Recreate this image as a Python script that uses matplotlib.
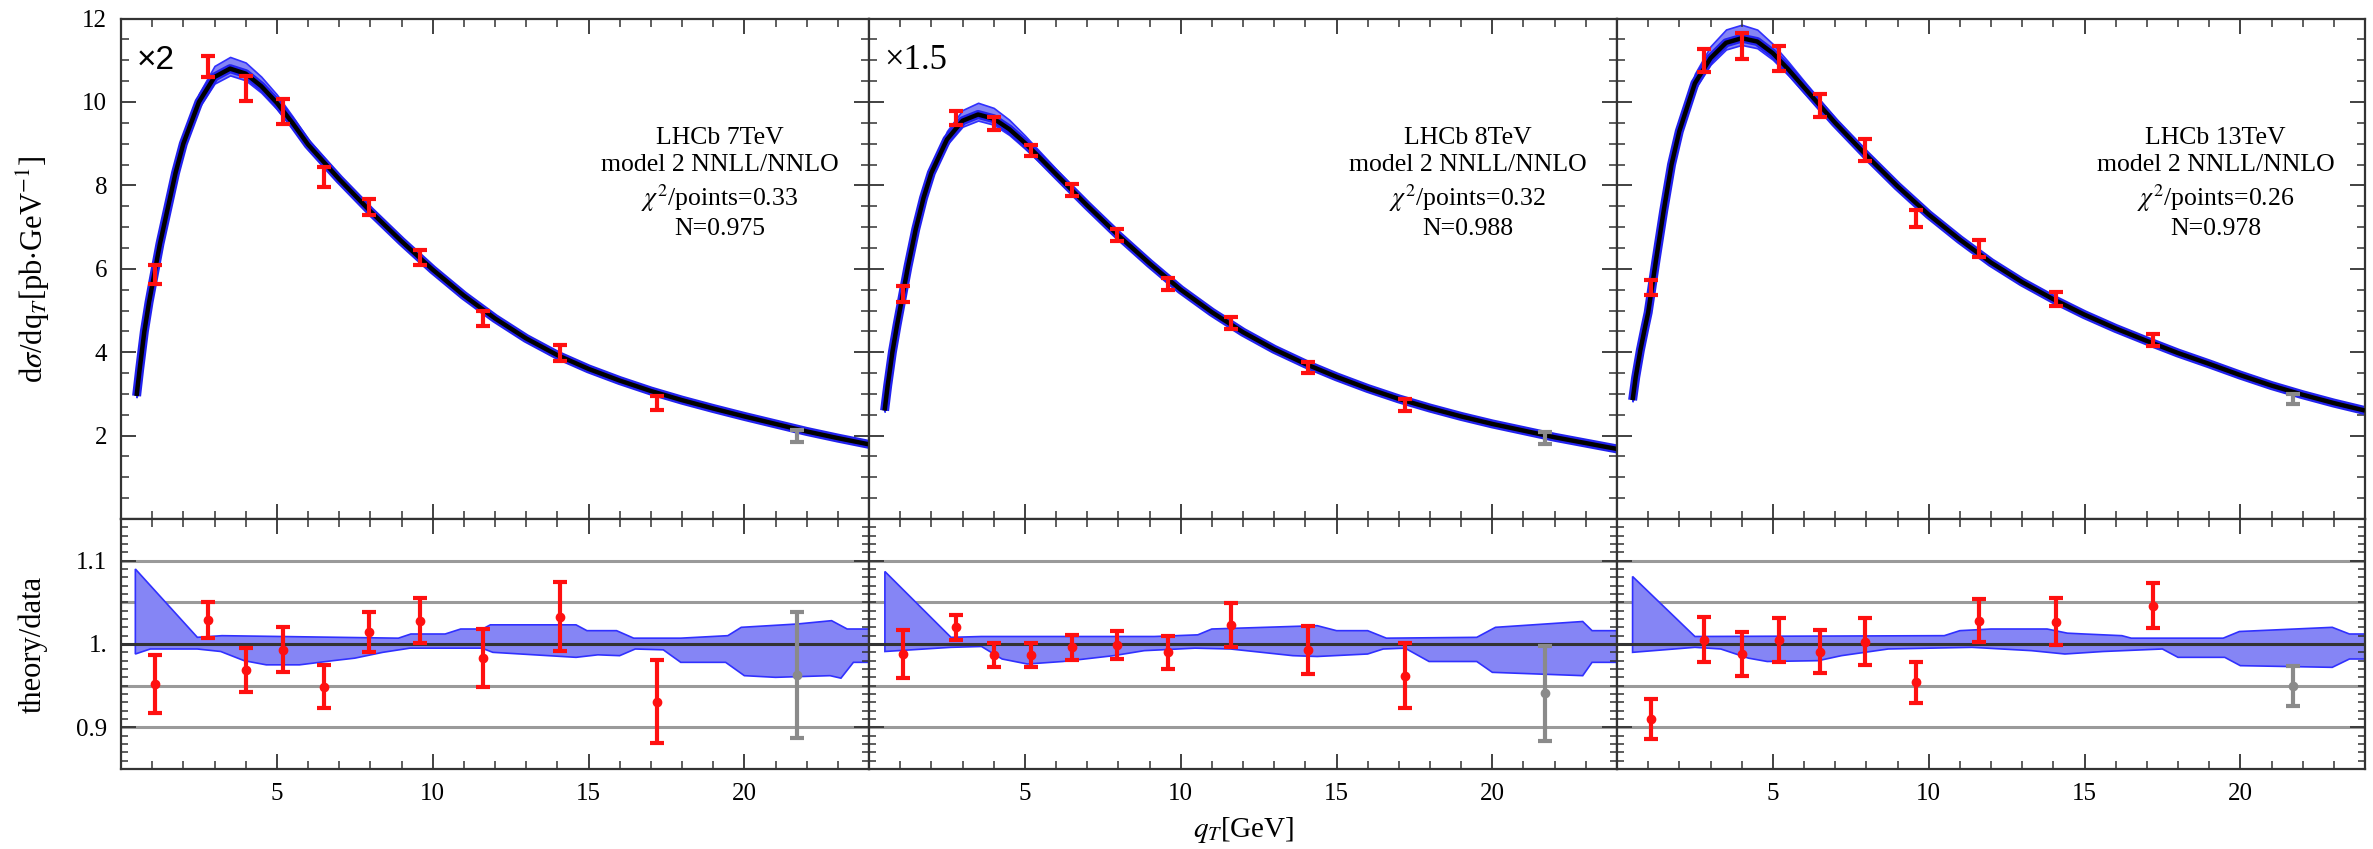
import numpy as np
import matplotlib
matplotlib.use('Agg')
import matplotlib.pyplot as plt
from matplotlib.ticker import MultipleLocator, FixedLocator, FixedFormatter

plt.rcParams['font.family'] = ['Liberation Serif', 'DejaVu Serif']
plt.rcParams['mathtext.fontset'] = 'stix'

# bin centres of the measured points (last point drawn in grey)
qt_pts = [1.1, 2.8, 4.0, 5.2, 6.5, 7.95, 9.6, 11.6, 14.1, 17.2, 21.7]

# theory curve grid
qt_grid = [0.5, 0.6, 0.75, 0.9, 1.0, 1.25, 1.5, 1.75, 2.0, 2.5, 3.0, 3.5, 4.0, 4.5, 5.0, 5.5,
           6.0, 7, 8, 9, 10, 11, 12, 13, 14, 15, 16, 17, 18, 19, 20, 21, 22, 23, 24]

# ---- LHCb 7TeV (x2)
curve_7 = [2.95, 3.6, 4.5, 5.2, 5.6, 6.6, 7.45, 8.3, 9.0, 10.0, 10.6, 10.8, 10.68, 10.38, 9.98,
           9.5, 8.98, 8.15, 7.38, 6.66, 5.98, 5.36, 4.81, 4.33, 3.93, 3.6, 3.32, 3.07, 2.85,
           2.65, 2.46, 2.28, 2.1, 1.94, 1.79]
band_hi_7 = [1.01, 1.01, 1.01, 1.01, 1.01, 1.011, 1.012, 1.014, 1.016, 1.02, 1.025, 1.026, 1.025,
             1.022, 1.02, 1.017, 1.015, 1.012, 1.01, 1.01, 1.01, 1.01, 1.01, 1.01, 1.01, 1.01,
             1.01, 1.01, 1.01, 1.01, 1.01, 1.01, 1.012, 1.014, 1.015]
band_lo_7 = [0.99, 0.99, 0.99, 0.99, 0.99, 0.99, 0.99, 0.99, 0.988, 0.986, 0.985, 0.985, 0.985,
             0.985, 0.985, 0.987, 0.988, 0.99, 0.99, 0.99, 0.99, 0.99, 0.99, 0.99, 0.99, 0.99,
             0.99, 0.99, 0.99, 0.99, 0.99, 0.99, 0.988, 0.986, 0.985]
data_7 = [5.86, 10.85, 10.33, 9.77, 8.21, 7.48, 6.27, 4.81, 3.98, 2.78, 1.99]
err_7 = [0.23, 0.25, 0.30, 0.29, 0.24, 0.19, 0.18, 0.19, 0.19, 0.17, 0.15]
ratio_7 = [0.952, 1.029, 0.969, 0.993, 0.949, 1.014, 1.028, 0.983, 1.033, 0.931, 0.963]
rerr_7 = [0.035, 0.022, 0.026, 0.027, 0.026, 0.024, 0.027, 0.035, 0.041, 0.05, 0.076]
rup_x_7 = [0.46, 2.45, 3.24, 8.9, 9.3, 10.4, 10.9, 11.6, 11.85, 14.6, 14.95, 15.9, 16.45, 17.96,
           19.47, 19.9, 21.7, 22.8, 23.3, 24]
rup_y_7 = [1.09, 1.008, 1.01, 1.007, 1.012, 1.012, 1.018, 1.018, 1.023, 1.023, 1.016, 1.016, 1.007,
           1.007, 1.01, 1.02, 1.024, 1.028, 1.018, 1.018]
rlo_x_7 = [0.46, 0.94, 2.45, 3.2, 3.95, 4.66, 5.73, 6.8, 7.5, 8.4, 9.27, 11.58, 11.93, 14.6, 15.3,
           16.0, 16.5, 17.4, 17.96, 19.4, 20.0, 21.0, 22.75, 23.1, 23.5, 24]
rlo_y_7 = [0.988, 0.994, 0.994, 0.991, 0.98, 0.975, 0.975, 0.98, 0.983, 0.99, 0.995, 0.995, 0.99,
           0.984, 0.987, 0.986, 0.994, 0.993, 0.978, 0.978, 0.962, 0.96, 0.962, 0.959, 0.978, 0.978]

# ---- LHCb 8TeV (x1.5)
curve_8 = [2.6, 3.2, 4.0, 4.65, 5.05, 6.05, 6.95, 7.7, 8.3, 9.1, 9.55, 9.7, 9.6, 9.35, 9.02,
           8.65, 8.27, 7.52, 6.8, 6.13, 5.5, 4.96, 4.48, 4.07, 3.72, 3.41, 3.13, 2.88, 2.66,
           2.46, 2.28, 2.12, 1.96, 1.82, 1.68]
band_hi_8 = [1.01, 1.01, 1.01, 1.01, 1.01, 1.011, 1.012, 1.014, 1.016, 1.022, 1.027, 1.029, 1.027,
             1.024, 1.02, 1.017, 1.015, 1.012, 1.01, 1.01, 1.01, 1.01, 1.01, 1.01, 1.01, 1.01,
             1.01, 1.01, 1.01, 1.01, 1.01, 1.01, 1.012, 1.014, 1.015]
band_lo_8 = [0.99, 0.99, 0.99, 0.99, 0.99, 0.99, 0.99, 0.99, 0.988, 0.986, 0.985, 0.985, 0.985,
             0.985, 0.985, 0.987, 0.988, 0.99, 0.99, 0.99, 0.99, 0.99, 0.99, 0.99, 0.99, 0.99,
             0.99, 0.99, 0.99, 0.99, 0.99, 0.99, 0.988, 0.986, 0.985]
data_8 = [5.40, 9.62, 9.49, 8.84, 7.89, 6.81, 5.63, 4.70, 3.63, 2.74, 1.94]
err_8 = [0.19, 0.16, 0.15, 0.14, 0.15, 0.14, 0.14, 0.14, 0.13, 0.14, 0.14]
ratio_8 = [0.988, 1.02, 0.987, 0.987, 0.996, 0.999, 0.99, 1.023, 0.993, 0.962, 0.941]
rerr_8 = [0.029, 0.015, 0.014, 0.014, 0.015, 0.017, 0.02, 0.026, 0.029, 0.039, 0.057]
rup_x_8 = [0.51, 2.63, 3.61, 9.16, 10.55, 11.0, 14.38, 15.0, 16.0, 16.6, 19.5, 20.1, 22.9, 23.2, 24]
rup_y_8 = [1.087, 1.008, 1.009, 1.009, 1.011, 1.018, 1.022, 1.016, 1.016, 1.007, 1.008, 1.02,
           1.027, 1.016, 1.016]
rlo_x_8 = [0.51, 2.63, 3.61, 4.27, 5.08, 6.22, 7.85, 8.83, 10.46, 11.6, 13.6, 14.38, 16.0, 16.5,
           17.2, 17.97, 19.5, 20.0, 22.9, 23.2, 24]
rlo_y_8 = [0.991, 0.996, 0.997, 0.982, 0.976, 0.979, 0.986, 0.992, 0.995, 0.994, 0.986, 0.985,
           0.988, 0.994, 0.995, 0.979, 0.979, 0.966, 0.962, 0.978, 0.978]

# ---- LHCb 13TeV
curve_13 = [2.85, 3.4, 4.05, 4.6, 4.95, 6.2, 7.4, 8.5, 9.3, 10.45, 11.05, 11.42, 11.53, 11.45,
            11.17, 10.78, 10.35, 9.5, 8.72, 7.98, 7.3, 6.7, 6.15, 5.68, 5.27, 4.9, 4.57, 4.27,
            3.98, 3.72, 3.45, 3.2, 2.98, 2.78, 2.6]
band_hi_13 = [1.01, 1.01, 1.01, 1.01, 1.01, 1.011, 1.012, 1.014, 1.016, 1.022, 1.026, 1.028, 1.028,
              1.025, 1.02, 1.017, 1.015, 1.012, 1.01, 1.01, 1.01, 1.01, 1.01, 1.01, 1.01, 1.01,
              1.01, 1.01, 1.01, 1.01, 1.01, 1.01, 1.012, 1.014, 1.015]
band_lo_13 = [0.99, 0.99, 0.99, 0.99, 0.99, 0.99, 0.99, 0.99, 0.988, 0.986, 0.986, 0.986, 0.986,
              0.986, 0.986, 0.987, 0.988, 0.99, 0.99, 0.99, 0.99, 0.99, 0.99, 0.99, 0.99, 0.99,
              0.99, 0.99, 0.99, 0.99, 0.99, 0.99, 0.988, 0.986, 0.985]
data_13 = [5.54, 10.99, 11.34, 11.05, 9.91, 8.85, 7.21, 6.49, 5.28, 4.30, 2.88]
err_13 = [0.18, 0.28, 0.31, 0.30, 0.27, 0.27, 0.20, 0.20, 0.17, 0.14, 0.12]
ratio_13 = [0.91, 1.005, 0.988, 1.005, 0.991, 1.003, 0.954, 1.028, 1.027, 1.046, 0.95]
rerr_13 = [0.024, 0.027, 0.026, 0.026, 0.026, 0.028, 0.025, 0.026, 0.028, 0.027, 0.024]
rup_x_13 = [0.5, 2.5, 10.5, 11.0, 12.0, 13.8, 14.45, 15.0, 16.2, 16.5, 19.45, 19.97, 22.95, 23.5, 24]
rup_y_13 = [1.081, 1.009, 1.01, 1.016, 1.018, 1.018, 1.013, 1.012, 1.01, 1.007, 1.007, 1.015,
            1.02, 1.012, 1.012]
rlo_x_13 = [0.5, 2.5, 3.33, 4.22, 4.82, 6.46, 7.2, 8.7, 11.39, 13.3, 14.37, 15.6, 17.5, 18.0,
            19.5, 20.0, 22.95, 23.5, 24]
rlo_y_13 = [0.99, 0.996, 0.994, 0.983, 0.979, 0.98, 0.986, 0.994, 0.996, 0.992, 0.988, 0.991,
            0.994, 0.984, 0.984, 0.974, 0.972, 0.982, 0.982]

panels = [
    ('LHCb 7TeV', '0.33', '0.975', 'x2', curve_7, band_hi_7, band_lo_7, data_7, err_7,
     ratio_7, rerr_7, rup_x_7, rup_y_7, rlo_x_7, rlo_y_7),
    ('LHCb 8TeV', '0.32', '0.988', 'x1.5', curve_8, band_hi_8, band_lo_8, data_8, err_8,
     ratio_8, rerr_8, rup_x_8, rup_y_8, rlo_x_8, rlo_y_8),
    ('LHCb 13TeV', '0.26', '0.978', '', curve_13, band_hi_13, band_lo_13, data_13, err_13,
     ratio_13, rerr_13, rup_x_13, rup_y_13, rlo_x_13, rlo_y_13),
]

band_fill = '#8585f5'
band_edge = '#3030ff'
spine_col = '#333333'

fig = plt.figure(figsize=(23.73, 8.49), dpi=100)
W = 2373.
H = 849.
x0 = 121 / W
pw = 748 / W
top_b = 1 - 519 / H
top_h = (519 - 18.6) / H
bot_b = 1 - 769 / H
bot_h = 250 / H

grid = np.array(qt_grid)
qt = np.array(qt_pts)

for i, p in enumerate(panels):
    (name, chi2, norm, mult, curve, bhi, blo, dat, err, rat, rerr,
     ux, uy, lx, ly) = p
    curve = np.array(curve)
    ax1 = fig.add_axes([x0 + i * pw, top_b, pw, top_h])
    ax2 = fig.add_axes([x0 + i * pw, bot_b, pw, bot_h])

    # upper panel
    ax1.fill_between(grid, curve * np.array(blo), curve * np.array(bhi),
                     color=band_fill, lw=1.2, edgecolor=band_edge, zorder=1)
    ax1.plot(grid, curve, color='#2222ee', lw=6.5, zorder=2, solid_capstyle='butt')
    ax1.plot(grid, curve, color='k', lw=3.2, zorder=3, solid_capstyle='butt')
    ax1.errorbar(qt[:-1], dat[:-1], yerr=err[:-1], fmt='none', ecolor='#ff1010',
                 elinewidth=3, capsize=5, capthick=3, zorder=5)
    ax1.errorbar(qt[-1:], dat[-1:], yerr=err[-1:], fmt='none', ecolor='#8a8a8a',
                 elinewidth=3, capsize=5, capthick=3, zorder=5)
    ax1.set_xlim(0, 24)
    ax1.set_ylim(0, 12)
    ax1.text(19.2, 9.4, name + '\nmodel 2 NNLL/NNLO\n' + r'$\chi^2$/points=' + chi2 + '\nN=' + norm,
             ha='center', va='top', fontsize=18.5, linespacing=1.27)
    if mult == 'x2':
        ax1.text(0.5, 11.0, '×2', ha='left', va='center', fontsize=24,
                 family=['Liberation Sans', 'DejaVu Sans'])
    elif mult:
        ax1.text(0.5, 11.0, '×1.5', ha='left', va='center', fontsize=25)

    # lower panel
    for g in [0.9, 0.95, 1.05, 1.1]:
        ax2.axhline(g, color='#9a9a9a', lw=2.2, zorder=0)
    ax2.fill(np.r_[ux, lx[::-1]], np.r_[uy, ly[::-1]], facecolor=band_fill,
             edgecolor=band_edge, lw=1.2, zorder=1)
    ax2.axhline(1.0, color='#333333', lw=2.2, zorder=2)
    ax2.errorbar(qt[:-1], rat[:-1], yerr=rerr[:-1], fmt='o', ms=6, color='#ff1010',
                 elinewidth=3, capsize=5, capthick=3, zorder=5)
    ax2.errorbar(qt[-1:], rat[-1:], yerr=rerr[-1:], fmt='o', ms=6, color='#8a8a8a',
                 elinewidth=3, capsize=5, capthick=3, zorder=5)
    ax2.set_xlim(0, 24)
    ax2.set_ylim(0.85, 1.15)

    for ax in (ax1, ax2):
        ax.xaxis.set_major_locator(FixedLocator([5, 10, 15, 20]))
        ax.xaxis.set_minor_locator(MultipleLocator(1))
        ax.tick_params(which='both', direction='in', top=True, right=True,
                       color=spine_col, labelsize=18, pad=10)
        ax.tick_params(which='major', length=11, width=1.3)
        ax.tick_params(which='minor', length=6, width=1.1)
        for s in ax.spines.values():
            s.set_color(spine_col)
            s.set_linewidth(1.6)
    ax1.yaxis.set_major_locator(FixedLocator([2, 4, 6, 8, 10, 12]))
    ax1.yaxis.set_minor_locator(MultipleLocator(0.5))
    ax1.tick_params(labelbottom=False)
    ax2.yaxis.set_major_locator(FixedLocator([0.9, 1.0, 1.1]))
    ax2.yaxis.set_major_formatter(FixedFormatter(['0.9', '1.', '1.1']))
    ax2.yaxis.set_minor_locator(MultipleLocator(0.01))
    ax2.tick_params(axis='y', which='minor', length=5)
    if i > 0:
        ax1.tick_params(labelleft=False)
        ax2.tick_params(labelleft=False)

fig.text(33 / W, 1 - 269 / H, r'd$\sigma$/dq$_T$[pb$\cdot$GeV$^{-1}$]', rotation=90,
         ha='center', va='center', fontsize=22)
fig.text(33 / W, 1 - 644 / H, 'theory/data', rotation=90, ha='center', va='center',
         fontsize=22)
fig.text(1244 / W, 1 - 830 / H, r'$q_T$[GeV]', ha='center', va='center', fontsize=21)

fig.savefig('out.png', dpi=100)
